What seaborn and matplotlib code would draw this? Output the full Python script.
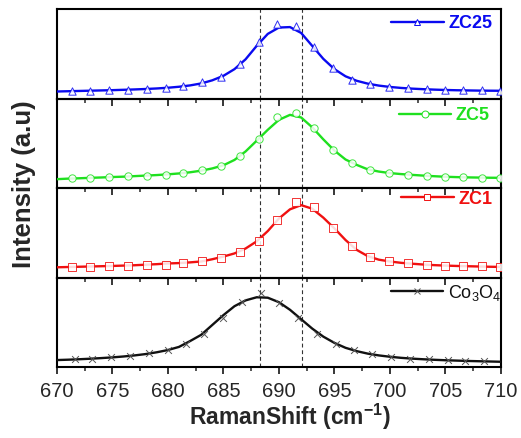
import numpy as np
import pandas as pd
import matplotlib
matplotlib.use("Agg")
import matplotlib.pyplot as plt
from matplotlib.lines import Line2D
from matplotlib.ticker import MultipleLocator
import seaborn as sns

# Raman shift grid of the fitted curves (cm^-1)
shift = list(range(670, 711))

# fitted curves, normalised intensity inside each panel
zc25_fit = [0.080, 0.083, 0.086, 0.089, 0.092, 0.095, 0.099, 0.103, 0.108, 0.114,
            0.122, 0.133, 0.148, 0.170, 0.205, 0.255, 0.330, 0.440, 0.590, 0.724,
            0.795, 0.800, 0.735, 0.590, 0.445, 0.330, 0.250, 0.200, 0.168, 0.146,
            0.131, 0.120, 0.112, 0.106, 0.101, 0.097, 0.094, 0.092, 0.090, 0.089, 0.088]
zc5_fit = [0.100, 0.106, 0.110, 0.115, 0.119, 0.124, 0.128, 0.134, 0.140, 0.146,
           0.154, 0.164, 0.177, 0.195, 0.220, 0.255, 0.315, 0.410, 0.530, 0.652,
           0.763, 0.819, 0.790, 0.680, 0.545, 0.420, 0.320, 0.260, 0.210, 0.185,
           0.168, 0.157, 0.148, 0.140, 0.133, 0.127, 0.123, 0.120, 0.118, 0.116, 0.115]
zc1_fit = [0.115, 0.118, 0.121, 0.124, 0.127, 0.130, 0.134, 0.138, 0.144, 0.150,
           0.158, 0.162, 0.170, 0.180, 0.205, 0.235, 0.270, 0.325, 0.405, 0.520,
           0.660, 0.763, 0.810, 0.770, 0.670, 0.550, 0.420, 0.310, 0.240, 0.200,
           0.180, 0.165, 0.155, 0.146, 0.139, 0.134, 0.130, 0.127, 0.124, 0.121, 0.119]
co3o4_fit = [0.078, 0.082, 0.087, 0.093, 0.100, 0.108, 0.118, 0.130, 0.145, 0.165,
             0.190, 0.225, 0.290, 0.360, 0.470, 0.580, 0.680, 0.745, 0.780, 0.775,
             0.725, 0.640, 0.535, 0.430, 0.340, 0.270, 0.215, 0.178, 0.150, 0.130,
             0.115, 0.103, 0.094, 0.087, 0.081, 0.076, 0.072, 0.068, 0.065, 0.062, 0.059]

# measured points (open symbols)
zc_pts_x = [671.4, 673.0, 674.7, 676.4, 678.1, 679.8, 681.4, 683.1, 684.8, 686.5,
            688.2, 689.8, 691.5, 693.2, 694.9, 696.6, 698.2, 699.9, 701.6, 703.3,
            705.0, 706.6, 708.3, 709.9]
zc25_pts = [0.088, 0.091, 0.094, 0.102, 0.110, 0.122, 0.140, 0.185, 0.247, 0.390,
            0.633, 0.837, 0.807, 0.572, 0.345, 0.208, 0.163, 0.133, 0.117, 0.106,
            0.099, 0.094, 0.094, 0.088]
zc5_pts = [0.108, 0.115, 0.122, 0.130, 0.141, 0.152, 0.170, 0.197, 0.244, 0.356,
           0.552, 0.797, 0.844, 0.670, 0.430, 0.281, 0.200, 0.170, 0.152, 0.137,
           0.126, 0.122, 0.115, 0.115]
zc1_pts = [0.122, 0.122, 0.126, 0.133, 0.137, 0.144, 0.159, 0.181, 0.219, 0.289,
           0.411, 0.648, 0.848, 0.789, 0.552, 0.348, 0.233, 0.185, 0.163, 0.144,
           0.130, 0.126, 0.126, 0.119]
co_pts_x = [671.6, 673.2, 674.9, 676.6, 678.3, 680.0, 681.6, 683.3, 685.0, 686.7,
            688.4, 690.0, 691.7, 693.4, 695.1, 696.8, 698.4, 700.1, 701.8, 703.5,
            705.2, 706.8, 708.5]
co3o4_pts = [0.085, 0.092, 0.107, 0.122, 0.152, 0.189, 0.263, 0.374, 0.552, 0.726,
             0.826, 0.714, 0.552, 0.374, 0.256, 0.189, 0.144, 0.115, 0.092, 0.085,
             0.078, 0.070, 0.070]

labels = ["ZC25", "ZC5", "ZC1", "Co$_3$O$_4$"]
peak_lines = [688.3, 692.1]

sns.set_style("ticks")
plt.rcParams['font.family'] = ['Liberation Sans', 'DejaVu Sans']
plt.rcParams['mathtext.fontset'] = 'custom'
plt.rcParams['mathtext.rm'] = 'Liberation Sans'
plt.rcParams['mathtext.bf'] = 'Liberation Sans:bold'

panels = [
    (zc25_fit, zc_pts_x, zc25_pts, "#0a0af0", "^", True),
    (zc5_fit, zc_pts_x, zc5_pts, "#1fe01f", "o", True),
    (zc1_fit, zc_pts_x, zc1_pts, "#f01010", "s", True),
    (co3o4_fit, co_pts_x, co3o4_pts, "#111111", "x", False),
]
# legend anchor (x of text end, y of centre) in axes fraction
leg_pos = [(0.98, 0.84), (0.975, 0.81), (0.98, 0.878), (1.0, 0.83)]

fig, axes = plt.subplots(4, 1, figsize=(5.21, 4.38), dpi=100, sharex=True)
fig.subplots_adjust(left=0.109, right=0.9616, top=0.979, bottom=0.162, hspace=0)

for i, (ax, (fit, px, py, col, mk, bold), lab) in enumerate(zip(axes, panels, labels)):
    ax.patch.set_visible(False)
    df_fit = pd.DataFrame({"shift": shift, "I": fit})
    df_pts = pd.DataFrame({"shift": px, "I": py})
    sns.lineplot(data=df_fit, x="shift", y="I", color=col, lw=1.7, ax=ax, zorder=3)
    if mk == "x":
        sns.scatterplot(data=df_pts, x="shift", y="I", marker="x", s=24, color="#555555",
                        linewidth=0.7, ax=ax, zorder=4)
    else:
        sns.scatterplot(data=df_pts, x="shift", y="I", marker=mk, s=28, facecolor="white",
                        edgecolor=col, linewidth=0.7, alpha=0.85, ax=ax, zorder=4)
    for v in peak_lines:
        ax.axvline(v, color="#333333", lw=0.8, ls=(0, (3.5, 2.5)), zorder=2)
    ax.set_xlim(670, 710)
    ax.set_ylim(0, 1)
    ax.set_yticks([])
    ax.set_ylabel("")
    ax.set_xlabel("")
    ax.xaxis.set_major_locator(MultipleLocator(5))
    ax.xaxis.set_minor_locator(MultipleLocator(2.5))
    ax.tick_params(axis="x", which="major", direction="out", length=5, width=1.3,
                   labelsize=14.5, pad=6)
    ax.tick_params(axis="x", which="minor", direction="out", length=3, width=1.1)
    for sp in ax.spines.values():
        sp.set_linewidth(1.5)
        sp.set_color("black")
    h = Line2D([], [], color=col, lw=1.7, marker=mk, markersize=5,
               markerfacecolor="white", markeredgecolor=col if mk != "x" else "#555555",
               markeredgewidth=0.7)
    ax.legend([h], [lab], loc="center right", bbox_to_anchor=leg_pos[i],
              frameon=False, handlelength=2.9, handletextpad=0.25,
              borderaxespad=0, borderpad=0, labelcolor=col,
              prop={"size": 13, "weight": "bold" if bold else "normal"})

axes[-1].set_xlabel("RamanShift (cm$^{\\mathbf{-1}}$)", fontsize=16.5, fontweight="bold")
axes[-1].xaxis.set_label_coords(0.525, -0.39)
fig.text(0.046, 0.58, "Intensity (a.u)", rotation=90, fontsize=18.5, fontweight="bold",
         ha="center", va="center")

fig.savefig("out.png", dpi=100, facecolor="white")
